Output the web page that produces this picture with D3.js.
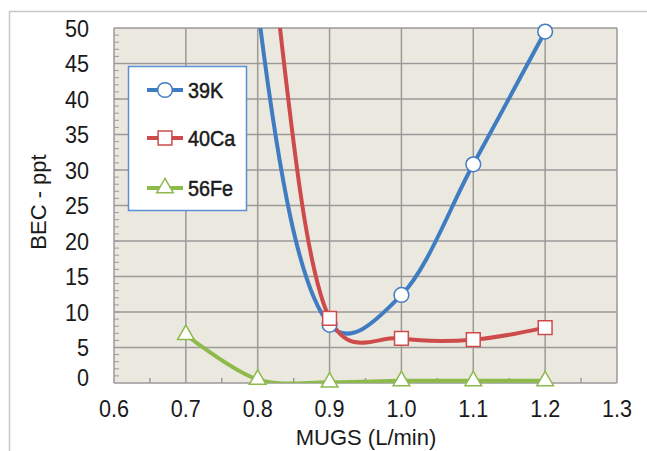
<html>
<head>
    <script src="https://d3js.org/d3.v7.min.js"></script>
    <style>
        body { margin: 0; background: #fff; }
        text { font-family: "Liberation Sans Narrow", "Arial Narrow", "Liberation Sans", sans-serif; fill: #1a1a1a; }
    </style>
</head>
<body>
    <svg id="plot" width="647" height="451"></svg>
    <script>
        // values (K and Ca at 0.7/0.8 run off the top)
        const mugs = [0.7, 0.8, 0.9, 1.0, 1.1, 1.2];
        const k39 = [200, 53, 8.2, 12.4, 30.8, 49.5];
        const ca40 = [140, 75, 9.1, 6.3, 6.1, 7.8];
        const fe56 = [6.8, 0.5, 0.1, 0.3, 0.3, 0.3];
        const seriesNames = ["39K", "40Ca", "56Fe"];
        const xTicks = [0.6, 0.7, 0.8, 0.9, 1.0, 1.1, 1.2, 1.3];
        const yTicks = [0, 5, 10, 15, 20, 25, 30, 35, 40, 45, 50];

        const svg = d3.select("#plot");
        const pLeft = 114, pRight = 617, pTop = 28, pBottom = 383;

        const x = d3.scaleLinear().domain([0.6, 1.3]).range([pLeft, pRight]);
        const y = d3.scaleLinear().domain([0, 50]).range([pBottom, pTop]);

        // outer frame (top + left visible)
        svg.append("rect")
            .attr("x", 9.5).attr("y", 11.5)
            .attr("width", 700).attr("height", 500)
            .attr("fill", "none")
            .attr("stroke", "#c8c8c8")
            .attr("stroke-width", 1.5);

        svg.append("rect")
            .attr("x", pLeft).attr("y", pTop)
            .attr("width", pRight - pLeft).attr("height", pBottom - pTop)
            .attr("fill", "#ebe8df");

        svg.append("defs").append("clipPath").attr("id", "clip")
            .append("rect")
            .attr("x", pLeft).attr("y", pTop)
            .attr("width", pRight - pLeft).attr("height", pBottom - pTop);

        // grid
        svg.append("g").selectAll("line").data(yTicks)
            .join("line")
            .attr("x1", pLeft).attr("x2", pRight)
            .attr("y1", d => y(d)).attr("y2", d => y(d))
            .attr("stroke", "#9a9a9a").attr("stroke-width", 1.5);
        svg.append("g").selectAll("line").data(xTicks)
            .join("line")
            .attr("x1", d => x(d)).attr("x2", d => x(d))
            .attr("y1", pTop).attr("y2", pBottom)
            .attr("stroke", "#9a9a9a").attr("stroke-width", 1.5);

        // minor ticks
        svg.append("g").selectAll("line").data(d3.range(1, 50))
            .join("line")
            .attr("x1", pLeft).attr("x2", pLeft + 5)
            .attr("y1", d => y(d)).attr("y2", d => y(d))
            .attr("stroke", "#9a9a9a").attr("stroke-width", 1);
        svg.append("g").selectAll("line").data(d3.range(0.65, 1.3, 0.1))
            .join("line")
            .attr("x1", d => x(d)).attr("x2", d => x(d))
            .attr("y1", pBottom).attr("y2", pBottom - 5)
            .attr("stroke", "#9a9a9a").attr("stroke-width", 1.5);

        // tick labels
        svg.append("g").selectAll("text").data(yTicks)
            .join("text")
            .attr("transform", d => "translate(89," + (d === 0 ? y(d) - 6 : y(d)) + ") scale(0.9,1)")
            .attr("dy", "0.36em")
            .attr("text-anchor", "end")
            .attr("font-size", 24)
            .text(d => d);
        svg.append("g").selectAll("text").data(xTicks)
            .join("text")
            .attr("transform", d => "translate(" + x(d) + ",417) scale(0.9,1)")
            .attr("text-anchor", "middle")
            .attr("font-size", 24)
            .text(d => d.toFixed(1));

        svg.append("text")
            .attr("x", 366).attr("y", 445)
            .attr("text-anchor", "middle")
            .attr("font-size", 22)
            .text("MUGS (L/min)");
        svg.append("text")
            .attr("transform", "translate(46,202) rotate(-90)")
            .attr("text-anchor", "middle")
            .attr("font-size", 22)
            .text("BEC - ppt");

        const series = [
            { name: seriesNames[0], values: k39, color: "#3f7cc2", marker: "circle" },
            { name: seriesNames[1], values: ca40, color: "#cd4b4b", marker: "square" },
            { name: seriesNames[2], values: fe56, color: "#8dba4b", marker: "triangle" }
        ];

        const line = d3.line()
            .x(d => x(d[0]))
            .y(d => y(d[1]))
            .curve(d3.curveCatmullRom.alpha(0.25));

        const lines = svg.append("g").attr("clip-path", "url(#clip)");
        series.forEach(s => {
            lines.append("path")
                .datum(mugs.map((m, i) => [m, s.values[i]]))
                .attr("d", line)
                .attr("fill", "none")
                .attr("stroke", s.color)
                .attr("stroke-width", 4);
        });

        const symbols = {
            circle: d3.symbol().type(d3.symbolCircle).size(170),
            square: d3.symbol().type(d3.symbolSquare).size(190),
            triangle: d3.symbol().type(d3.symbolTriangle).size(120)
        };

        series.forEach(s => {
            const pts = mugs.map((m, i) => [m, s.values[i]]).filter(d => d[1] <= 50);
            svg.append("g").selectAll("path").data(pts)
                .join("path")
                .attr("transform", d => "translate(" + x(d[0]) + "," + y(d[1]) + ")")
                .attr("d", symbols[s.marker]())
                .attr("fill", "#fff")
                .attr("stroke", s.color)
                .attr("stroke-width", 1.5);
        });

        // legend
        const legend = svg.append("g");
        legend.append("rect")
            .attr("x", 128.5).attr("y", 66.5)
            .attr("width", 118).attr("height", 144)
            .attr("fill", "#fff")
            .attr("stroke", "#5b8fd4")
            .attr("stroke-width", 1.5);
        series.forEach((s, i) => {
            const ly = [90, 138, 188][i];
            legend.append("line")
                .attr("x1", 147).attr("x2", 183)
                .attr("y1", ly).attr("y2", ly)
                .attr("stroke", s.color).attr("stroke-width", 4);
            legend.append("path")
                .attr("transform", "translate(165," + ly + ")")
                .attr("d", symbols[s.marker]())
                .attr("fill", "#fff")
                .attr("stroke", s.color)
                .attr("stroke-width", 1.5);
            legend.append("text")
                .attr("transform", "translate(188," + ly + ") scale(0.9,1)")
                .attr("dy", "0.36em")
                .attr("font-size", 22)
                .attr("stroke", "#1a1a1a")
                .attr("stroke-width", 0.5)
                .text(s.name);
        });
    </script>
</body>
</html>
